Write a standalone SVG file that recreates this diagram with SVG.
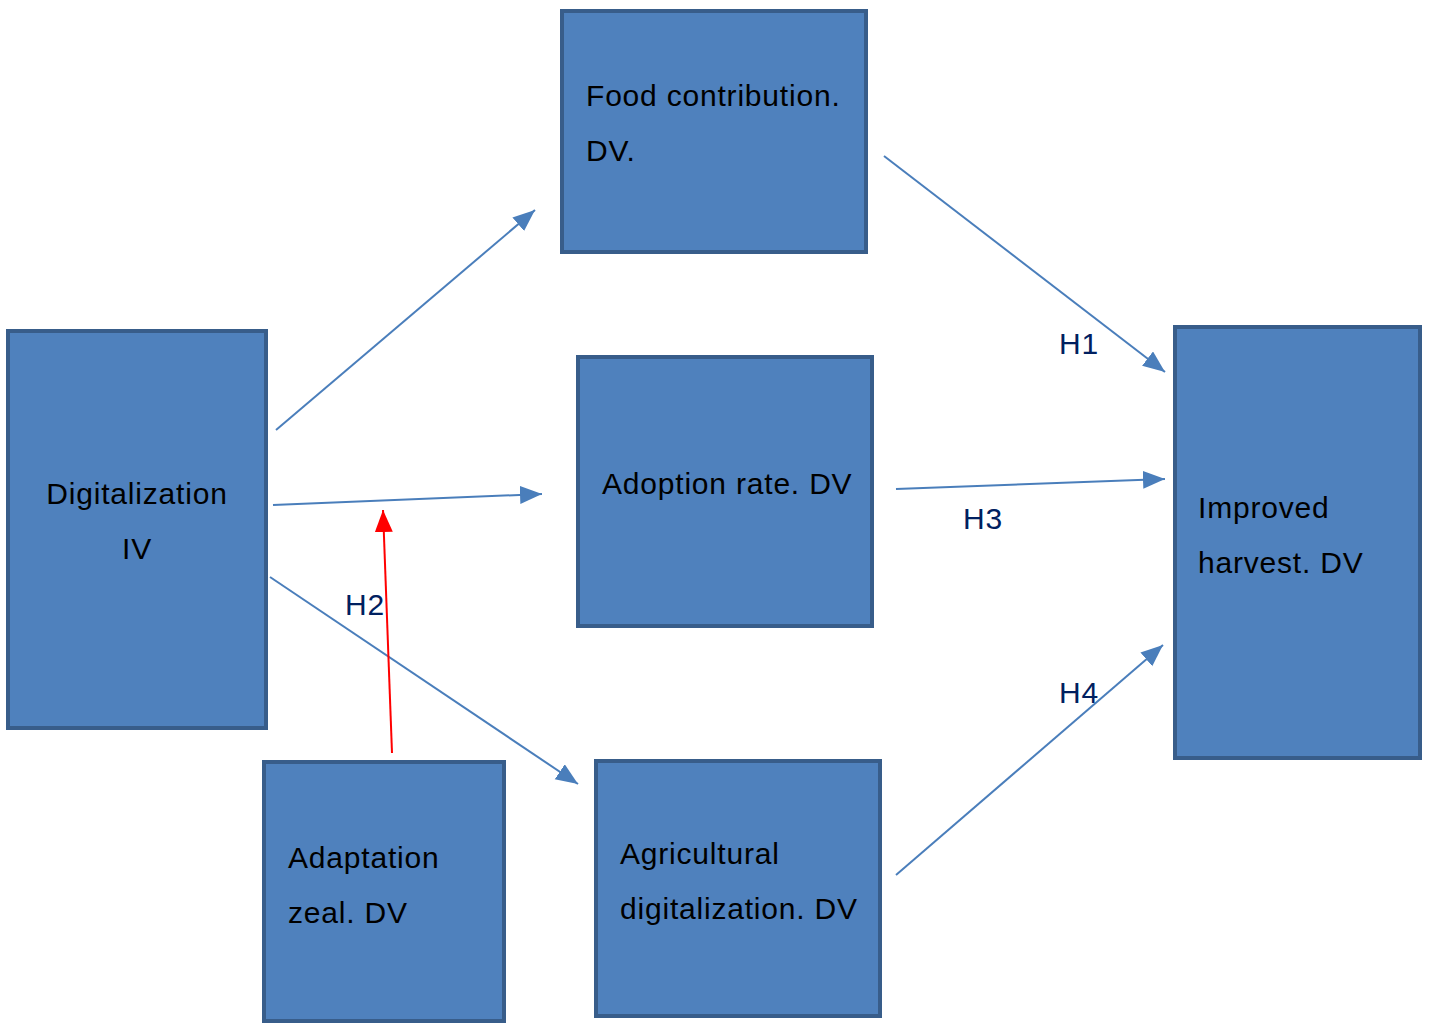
<svg xmlns="http://www.w3.org/2000/svg" width="1429" height="1023" viewBox="0 0 1429 1023">
<style>
.box{fill:#4F81BD;stroke:#385D8A;stroke-width:4}
.t{font-family:"Liberation Sans",Arial,sans-serif;font-size:30px;letter-spacing:0.8px;fill:#000}
.h{font-family:"Liberation Sans",Arial,sans-serif;font-size:30px;letter-spacing:0.8px;fill:#002060}
.c{stroke:#4A7EBB;stroke-width:2;fill:none}
.r{stroke:#FF0000;stroke-width:2;fill:none}
</style>
<defs>
<marker id="ab" markerUnits="userSpaceOnUse" markerWidth="24" markerHeight="20" refX="22" refY="9" orient="auto">
<path d="M0,0 L22,9 L0,18 Z" fill="#4A7EBB"/>
</marker>
<marker id="ar" markerUnits="userSpaceOnUse" markerWidth="24" markerHeight="20" refX="22" refY="9" orient="auto">
<path d="M0,0 L22,9 L0,18 Z" fill="#FF0000"/>
</marker>
</defs>
<rect width="1429" height="1023" fill="#fff"/>
<g id="food">
<rect class="box" x="562" y="11" width="304" height="241"/>
<text class="t" x="586" y="106">Food contribution.</text>
<text class="t" x="586" y="161">DV.</text>
</g>
<g id="digitalization">
<rect class="box" x="8" y="331" width="258" height="397"/>
<text class="t" x="137" y="504" text-anchor="middle">Digitalization</text>
<text class="t" x="137" y="559" text-anchor="middle">IV</text>
</g>
<g id="adoption">
<rect class="box" x="578" y="357" width="294" height="269"/>
<text class="t" x="602" y="494">Adoption rate. DV</text>
</g>
<g id="harvest">
<rect class="box" x="1175" y="327" width="245" height="431"/>
<text class="t" x="1198" y="518">Improved</text>
<text class="t" x="1198" y="573">harvest. DV</text>
</g>
<g id="zeal">
<rect class="box" x="264" y="762" width="240" height="259"/>
<text class="t" x="288" y="868">Adaptation</text>
<text class="t" x="288" y="923">zeal. DV</text>
</g>
<g id="agri">
<rect class="box" x="596" y="761" width="284" height="255"/>
<text class="t" x="620" y="864">Agricultural</text>
<text class="t" x="620" y="919">digitalization. DV</text>
</g>
<g id="connectors">
<line class="c" x1="276" y1="430" x2="535" y2="210" marker-end="url(#ab)"/>
<line class="c" x1="273" y1="505" x2="542" y2="494" marker-end="url(#ab)"/>
<line class="c" x1="270" y1="577" x2="578" y2="784" marker-end="url(#ab)"/>
<line class="c" x1="884" y1="156" x2="1165" y2="372" marker-end="url(#ab)"/>
<line class="c" x1="896" y1="489" x2="1165" y2="479" marker-end="url(#ab)"/>
<line class="c" x1="896" y1="875" x2="1163" y2="645" marker-end="url(#ab)"/>
<line class="r" x1="392" y1="753" x2="383" y2="510" marker-end="url(#ar)"/>
</g>
<g id="labels">
<text class="h" x="1059" y="354">H1</text>
<text class="h" x="345" y="615">H2</text>
<text class="h" x="963" y="529">H3</text>
<text class="h" x="1059" y="703">H4</text>
</g>
</svg>
